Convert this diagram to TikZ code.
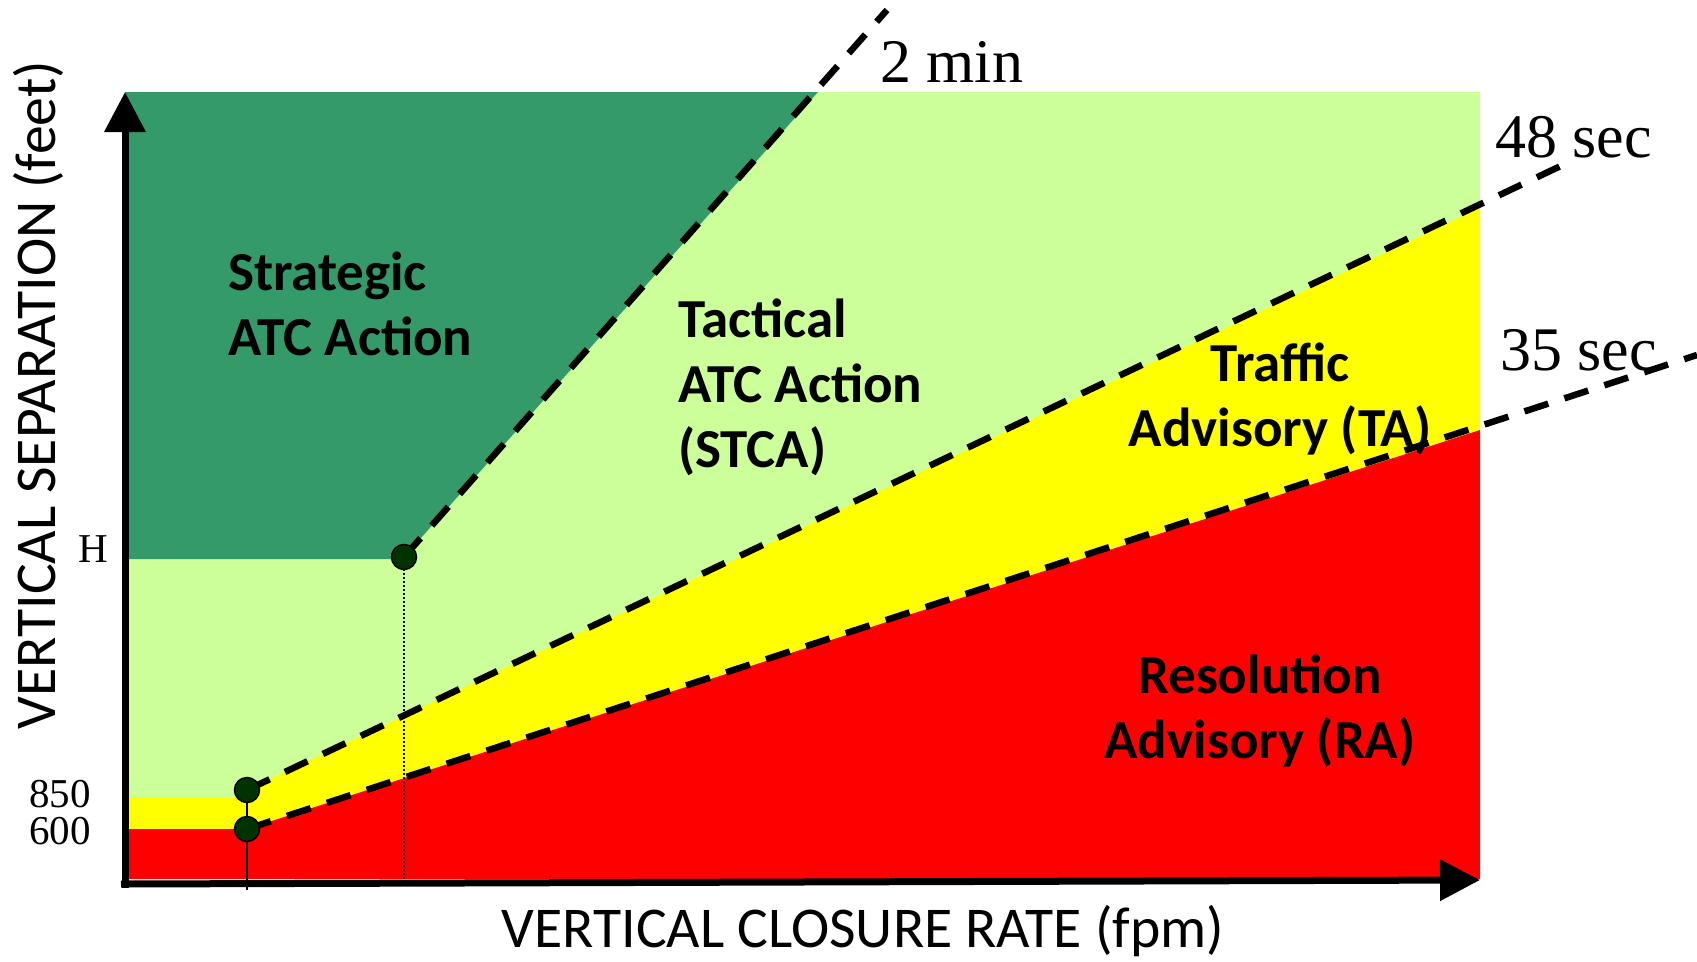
\documentclass[tikz,border=0pt]{standalone}
\usepackage{fontspec}
\setmainfont{Liberation Serif}
\newfontfamily\calfont{Carlito}
\usetikzlibrary{arrows.meta}
\definecolor{strat}{RGB}{53,154,106}
\definecolor{tact}{RGB}{204,255,153}
\definecolor{traf}{RGB}{255,255,0}
\definecolor{resol}{RGB}{255,0,0}
\definecolor{knot}{RGB}{0,51,0}
\tikzset{
  axis/.style={line width=7pt, -{Triangle[length=40pt,width=40pt]}},
  tau/.style={line width=6.5pt, dash pattern=on 25pt off 17pt},
  knotdot/.style={circle, draw=black, line width=1.5pt, fill=knot, minimum size=25pt, inner sep=0pt},
  region/.style={font=\calfont\bfseries\fontsize{55}{65}\selectfont, inner sep=0pt},
  timelbl/.style={font=\fontsize{62}{70}\selectfont, inner sep=0pt, anchor=base west},
  ticklbl/.style={font=\fontsize{41}{48}\selectfont, inner sep=0pt, anchor=base east},
  axislbl/.style={font=\calfont\fontsize{57.7}{64}\selectfont, inner sep=0pt, anchor=base},
}
\begin{document}
\begin{tikzpicture}[x=1pt,y=-1pt]
\useasboundingbox (0,0) rectangle (1697,961);

% chart frame
\coordinate (tl) at (125,92);
\coordinate (br) at (1480,879);
\coordinate (ytip) at (125,92);
\coordinate (xtip) at (1480,880);

% threshold points
\coordinate (cH) at (404,557);
\coordinate (c850) at (247,790);
\coordinate (c600) at (247,829);

% ends of the time lines
\coordinate (e2) at (887,10);
\coordinate (e48) at (1567,163);
\coordinate (e35) at (1697,355);
\coordinate (top2) at (818,92);
\coordinate (r48) at (1480,208);
\coordinate (r35) at (1480,430);

% zones
\fill[tact] (tl) rectangle (br);
\fill[strat] (tl) -- (top2) -- (cH) -- (404,559) -- (125,559) -- cycle;
\fill[traf] (125,797) -- (247,797) -- (c850) -- (r48) -- (r35) -- (c600) -- (125,829) -- cycle;
\fill[resol] (125,829) -- (c600) -- (r35) -- (br) -- (125,879) -- cycle;

% threshold guides
\draw[line width=2pt] (c850) -- (247,890);
\draw[line width=2pt, dotted] (cH) -- (404,879);

% labels (anchored at the baseline of the last line)
\node[region, align=left, anchor=base west] (lstrat) at (228,355) {Strategic\\ATC Action};
\node[region, align=left, anchor=base west] (ltact) at (678,467) {Tactical\\ATC Action\\(STCA)};
\node[region, align=center, anchor=base] (ltraf) at (1280,446) {Traffic\\Advisory (TA)};
\node[region, align=center, anchor=base] (lres) at (1260,758) {Resolution\\Advisory (RA)};

\node[timelbl] (t2) at (880,82) {2 min};
\node[timelbl] (t48) at (1495,157) {48 sec};
\node[timelbl] (t35) at (1500,370) {35 sec};

\node[ticklbl] (tH) at (108,562) {H};
\node[ticklbl] (t850) at (91,807) {850};
\node[ticklbl] (t600) at (91,844) {600};

\node[axislbl, rotate=90] (ylab) at (55,395) {VERTICAL SEPARATION (feet)};
\node[axislbl] (xlab) at (863,947) {VERTICAL CLOSURE RATE (fpm)};

% time lines
\draw[tau] (cH) -- (e2);
\draw[tau] (c850) -- (e48);
\draw[tau] (c600) -- (e35);

% axes
\draw[axis] (125,888) -- (ytip);
\draw[axis] (121,884) -- (xtip);

% threshold markers
\node[knotdot] (nH) at (cH) {};
\node[knotdot] (n850) at (c850) {};
\node[knotdot] (n600) at (c600) {};
\end{tikzpicture}
\end{document}
